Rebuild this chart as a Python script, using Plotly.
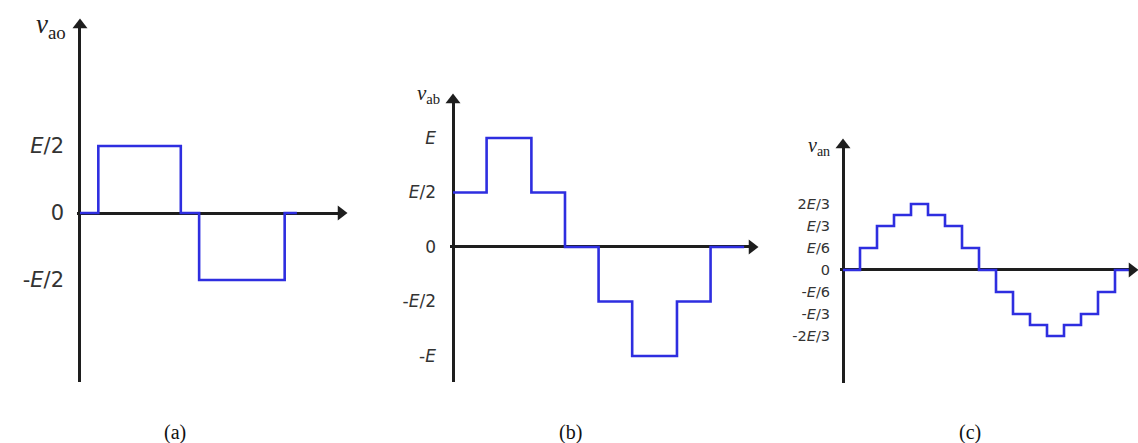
import plotly.graph_objects as go

W, H = 1138, 443

# ---- waveform data (switching angles in degrees, levels) ----
# (a) pole voltage v_ao, levels in units of E
ao_angle = [0, 30, 165, 195, 335, 355]
ao_level = [0, 0.5, 0, -0.5, 0, 0]
ao_ticks = [0.5, 0, -0.5]
ao_ticktext = ["<i>E</i>/2", "0", "-<i>E</i>/2"]

# (b) line voltage v_ab, levels in units of E
ab_angle = [0, 30, 70, 100, 130, 160, 200, 230, 260]
ab_level = [0.5, 1, 0.5, 0, -0.5, -1, -0.5, 0, 0]
ab_ticks = [1, 0.5, 0, -0.5, -1]
ab_ticktext = ["<i>E</i>", "<i>E</i>/2", "0", "-<i>E</i>/2", "-<i>E</i>"]

# (c) phase voltage v_an, levels in voltage steps
an_angle = [0, 15, 30, 45, 60, 75, 90, 105, 120, 135, 150, 165, 180, 195, 210, 225, 240, 262]
an_level = [0, 1, 2, 2.5, 3, 2.5, 2, 1, 0, -1, -2, -2.5, -3, -2.5, -2, -1, 0, 0]
an_ticks = [3, 2, 1, 0, -1, -2, -3]
an_ticktext = ["2<i>E</i>/3", "<i>E</i>/3", "<i>E</i>/6", "0",
               "-<i>E</i>/6", "-<i>E</i>/3", "-2<i>E</i>/3"]

BLUE = "#2e2ee0"
AXIS = "#1e1e1e"
TICK_COLOR = "#333333"

# panel geometry: pixel box of each axis frame and its data range
panels = [
    dict(name="1", angle=ao_angle, level=ao_level, ticks=ao_ticks, ticktext=ao_ticktext,
         xpx=(77, 341), ypx=(25, 382), xr=(-4.9, 427.2), yr=(-1.261, 1.403),
         fsize=21, standoff=12, sym="<i>v</i><sub>ao</sub>", lab=(68, 26), labsize=27),
    dict(name="2", angle=ab_angle, level=ab_level, ticks=ab_ticks, ticktext=ab_ticktext,
         xpx=(450, 752), ypx=(100, 382), xr=(-2.68, 267.0), yr=(-1.239, 1.349),
         fsize=17, standoff=13, sym="<i>v</i><sub>ab</sub>", lab=(442, 94), labsize=21),
    dict(name="3", angle=an_angle, level=an_level, ticks=an_ticks, ticktext=an_ticktext,
         xpx=(840, 1132), ypx=(145, 383), xr=(-2.65, 255.0), yr=(-5.14, 5.68),
         fsize=14.5, standoff=9, sym="<i>v</i><sub>an</sub>", lab=(832, 146), labsize=20),
]

fig = go.Figure()
layout = dict(width=W, height=H, margin=dict(l=0, r=0, t=0, b=0),
              paper_bgcolor="white", plot_bgcolor="white", showlegend=False)
annotations = []

for p in panels:
    n = p["name"]
    xs = "x" if n == "1" else "x" + n
    ys = "y" if n == "1" else "y" + n
    xk = "xaxis" if n == "1" else "xaxis" + n
    yk = "yaxis" if n == "1" else "yaxis" + n

    fig.add_trace(go.Scatter(x=p["angle"], y=p["level"], mode="lines",
                             line=dict(color=BLUE, width=2.6, shape="hv"),
                             xaxis=xs, yaxis=ys, cliponaxis=False, hoverinfo="skip"))
    # arrow heads at the ends of both axes
    fig.add_trace(go.Scatter(x=[p["xr"][1]], y=[0], mode="markers",
                             marker=dict(symbol="triangle-right", size=13, color=AXIS),
                             xaxis=xs, yaxis=ys, cliponaxis=False, hoverinfo="skip"))
    fig.add_trace(go.Scatter(x=[0], y=[p["yr"][1]], mode="markers",
                             marker=dict(symbol="triangle-up", size=13, color=AXIS),
                             xaxis=xs, yaxis=ys, cliponaxis=False, hoverinfo="skip"))

    layout[xk] = dict(domain=[p["xpx"][0] / W, p["xpx"][1] / W], range=list(p["xr"]),
                      anchor=ys, showgrid=False, showticklabels=False, ticks="",
                      showline=False, zeroline=True, zerolinecolor=AXIS, zerolinewidth=2.6,
                      fixedrange=True)
    layout[yk] = dict(domain=[1 - p["ypx"][1] / H, 1 - p["ypx"][0] / H], range=list(p["yr"]),
                      anchor=xs, showgrid=False, ticks="", showline=False,
                      zeroline=True, zerolinecolor=AXIS, zerolinewidth=2.6,
                      tickvals=p["ticks"], ticktext=p["ticktext"],
                      tickfont=dict(family="DejaVu Sans, Arial", size=p["fsize"], color=TICK_COLOR),
                      ticklabelstandoff=p["standoff"], fixedrange=True)

    annotations.append(dict(text=p["sym"], xref="paper", yref="paper",
                            x=p["lab"][0] / W, y=1 - p["lab"][1] / H,
                            xanchor="right", yanchor="middle", showarrow=False,
                            font=dict(family="Liberation Serif, Times New Roman",
                                      size=p["labsize"], color="#222222")))

# sub-figure captions
for text, cx in [("(a)", 175), ("(b)", 570), ("(c)", 970)]:
    annotations.append(dict(text=text, xref="paper", yref="paper", x=cx / W, y=1 - 432 / H,
                            xanchor="center", yanchor="middle", showarrow=False,
                            font=dict(family="Liberation Serif, Times New Roman", size=20,
                                      color="#111111")))

layout["annotations"] = annotations
fig.update_layout(**layout)
fig.write_html("out.html", config=dict(displayModeBar=False))
